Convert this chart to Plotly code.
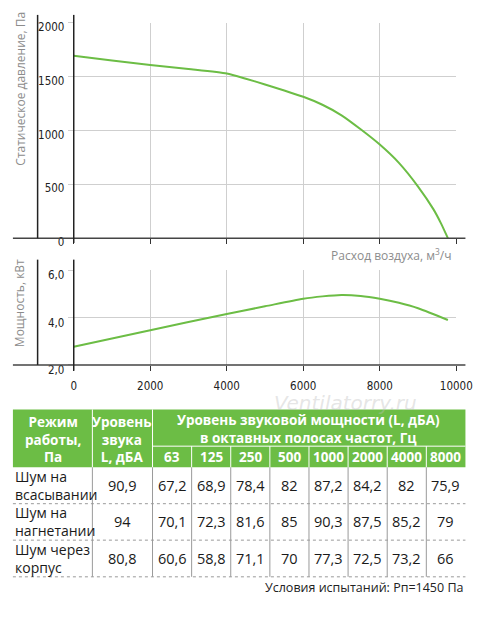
import plotly.graph_objects as go

# the page keeps its default 8px body margin, so the figure is drawn 16px smaller
# than the 500x617 window and every page position is shifted by the margin
PAGE_W, PAGE_H = 500, 617
OFF = 8
W, H = PAGE_W - 2 * OFF, PAGE_H - 2 * OFF

# fan curve data
flow_p = [0, 1000, 2000, 3000, 4000, 4500, 5000, 6000, 6500, 7000, 7500, 8000, 8500, 9000, 9400, 9600, 9780]
pressure = [1695, 1652, 1610, 1572, 1530, 1482, 1429, 1314, 1240, 1142, 1012, 870, 700, 480, 270, 138, 0]

flow_n = [0, 2000, 4000, 5000, 6000, 6500, 7000, 7500, 8000, 8500, 9000, 9780]
power = [2.77, 3.47, 4.15, 4.48, 4.8, 4.9, 4.96, 4.92, 4.8, 4.63, 4.4, 3.9]

flow_ticks = [0, 2000, 4000, 6000, 8000, 10000]
flow_labels = ["0", "2000", "4000", "6000", "8000", "10000"]
power_ticks = [2, 4, 6]
power_labels = ["2,0", "4,0", "6,0"]

# noise table
freqs = ["63", "125", "250", "500", "1000", "2000", "4000", "8000"]
modes = ["Шум на<br>всасывании", "Шум на<br>нагнетании", "Шум через<br>корпус"]
total_level = [90.9, 94, 80.8]
band_suction = [67.2, 68.9, 78.4, 82, 87.2, 84.2, 82, 75.9]
band_discharge = [70.1, 72.3, 81.6, 85, 90.3, 87.5, 85.2, 79]
band_case = [60.6, 58.8, 71.1, 70, 77.3, 72.5, 73.2, 66]
bands = [band_suction, band_discharge, band_case]

GREEN = "#6cbd45"
TICKFONT = "DejaVu Sans Condensed, Liberation Sans Narrow, Roboto, sans-serif"
TXTFONT = "Open Sans, Noto Sans, sans-serif"


def px(x):
    return (x - OFF) / W


def py(y):
    return 1 - (y - OFF) / H


def fmt(v):
    return f"{v:g}".replace(".", ",")


fig = go.Figure()
fig.add_trace(go.Scatter(x=flow_p, y=pressure, mode="lines", xaxis="x", yaxis="y",
                         line=dict(color=GREEN, width=2, shape="spline", smoothing=0.6),
                         hoverinfo="skip"))
fig.add_trace(go.Scatter(x=flow_n, y=power, mode="lines", xaxis="x2", yaxis="y2",
                         line=dict(color=GREEN, width=2, shape="spline", smoothing=0.8),
                         hoverinfo="skip"))

x_left, x_right = 73.3, 471.5
top_y0, top_y1 = 20.3, 241
bot_y0, bot_y1 = 274, 371

axis_common = dict(range=[0, 10000], tickvals=flow_ticks, showgrid=True,
                   gridcolor="#cfcfcf", gridwidth=1, zeroline=False, showline=False,
                   ticks="outside", ticklen=5, tickcolor="#333", tickwidth=1,
                   fixedrange=True)

fig.update_layout(
    width=W, height=H, margin=dict(l=0, r=0, t=0, b=0),
    paper_bgcolor="white", plot_bgcolor="white", showlegend=False,
    xaxis=dict(domain=[px(x_left), px(x_right)], anchor="y", showticklabels=False,
               **axis_common),
    yaxis=dict(domain=[py(top_y1), py(top_y0)], anchor="x", range=[0, 2000], dtick=500,
               tickformat="d", showgrid=True, gridcolor="#cfcfcf", zeroline=False,
               showline=False, ticks="outside", ticklen=5, tickcolor="#cfcfcf",
               tickfont=dict(family=TICKFONT, size=11.5, color="#222"),
               ticklabelshift=4, ticklabelstandoff=1, fixedrange=True),
    xaxis2=dict(domain=[px(x_left), px(x_right)], anchor="y2", ticktext=flow_labels,
                tickfont=dict(family=TICKFONT, size=11.5, color="#222"),
                ticklabelstandoff=5, **axis_common),
    yaxis2=dict(domain=[py(bot_y1), py(bot_y0)], anchor="x2", range=[2, 6],
                tickvals=power_ticks, ticktext=power_labels,
                showgrid=True, gridcolor="#cfcfcf", zeroline=False, showline=False,
                ticks="outside", ticklen=5, tickcolor="#cfcfcf",
                tickfont=dict(family=TICKFONT, size=11.5, color="#222"),
                ticklabelshift=5, ticklabelstandoff=1, fixedrange=True),
)

shapes = []
ann = []


def line(x0, y0, x1, y1, color, width=1, dash="solid"):
    shapes.append(dict(type="line", xref="paper", yref="paper",
                       x0=px(x0), y0=py(y0), x1=px(x1), y1=py(y1),
                       line=dict(color=color, width=width, dash=dash)))


def text(x, y, s, size=12, color="#222", xanchor="center", bold=False, family=TXTFONT, **kw):
    ann.append(dict(xref="paper", yref="paper", x=px(x), y=py(y), text=s, showarrow=False,
                    xanchor=xanchor, yanchor="middle",
                    font=dict(family=family, size=size, color=color,
                              weight="bold" if bold else "normal"), **kw))


# axis frames of the two charts
line(10, top_y1, 481, top_y1, "#444", 1.5)
line(35.7, 12, 35.7, top_y1, "#222", 1.5)
line(x_left, 12, x_left, 246, "#222", 1.5)
line(10, bot_y1, 481, bot_y1, "#444", 1.5)
line(35.7, 263, 35.7, bot_y1, "#222", 1.5)
line(x_left, 263, x_left, 377, "#222", 1.5)

text(17, 88, "Статическое давление, Па", size=12, color="#8c8c8c", textangle=-90)
text(17, 308, "Мощность, кВт", size=12, color="#8c8c8c", textangle=-90)
text(468, 258, "Расход воздуха, м<sup>3</sup>/ч", size=12, color="#8c8c8c", xanchor="right")

text(356, 410, "Ventilatorry.ru", size=20, color="rgba(190,190,190,0.4)",
     family="DejaVu Sans, sans-serif")
ann[-1]["font"]["style"] = "italic"

# table
t_top, t_mid, t_head = 416.7, 454.3, 476
t_left, t_right = 10, 481
col_a, col_b = 92.7, 155.3
band_w = (t_right - col_b) / len(freqs)
row_edges = [476, 513.3, 550.7, 588.3]

shapes.append(dict(type="rect", xref="paper", yref="paper", x0=px(t_left), x1=px(t_right),
                   y0=py(t_head), y1=py(t_top), fillcolor=GREEN, line=dict(width=0),
                   layer="below"))
line(col_a, t_top, col_a, t_head, "white", 1)
line(col_b, t_top, col_b, t_head, "white", 1)
line(col_b, t_mid, t_right, t_mid, "white", 1)
for i in range(1, len(freqs)):
    xb = col_b + i * band_w
    line(xb, t_mid, xb, t_head, "white", 1)
    line(xb, t_head, xb, row_edges[-1], "#9a9a9a", 1)
line(col_a, t_head, col_a, row_edges[-1], "#9a9a9a", 1)
line(col_b, t_head, col_b, row_edges[-1], "#9a9a9a", 1)
for ye in row_edges[1:]:
    line(t_left, ye, t_right, ye, "#9a9a9a", 1, "dot")

text((t_left + col_a) / 2, 447.5, "Режим<br>работы,<br>Па", size=13.5, color="white", bold=True)
text((col_a + col_b) / 2, 447.5, "Уровень<br>звука<br>L, дБА", size=13.5, color="white", bold=True)
text((col_b + t_right) / 2, 436.5, "Уровень звуковой мощности (L, дБА)<br>в октавных полосах частот, Гц",
     size=13.5, color="white", bold=True)
for i, f in enumerate(freqs):
    text(col_b + (i + 0.5) * band_w, 465.5, f, size=13.5, color="white", bold=True)

for r, mode in enumerate(modes):
    yc = (row_edges[r] + row_edges[r + 1]) / 2
    text(t_left, yc, mode, size=14, color="#1a1a1a", xanchor="left", align="left")
    text((col_a + col_b) / 2, yc, fmt(total_level[r]), size=14.5, color="#1a1a1a")
    for i, v in enumerate(bands[r]):
        text(col_b + (i + 0.5) * band_w, yc, fmt(v), size=14.5, color="#1a1a1a")

text(481, 599.5, "Условия испытаний: Рп=1450 Па", size=12.5, color="#222", xanchor="right")

fig.update_layout(shapes=shapes, annotations=ann)
fig.write_html("out.html", config={"displayModeBar": False})
